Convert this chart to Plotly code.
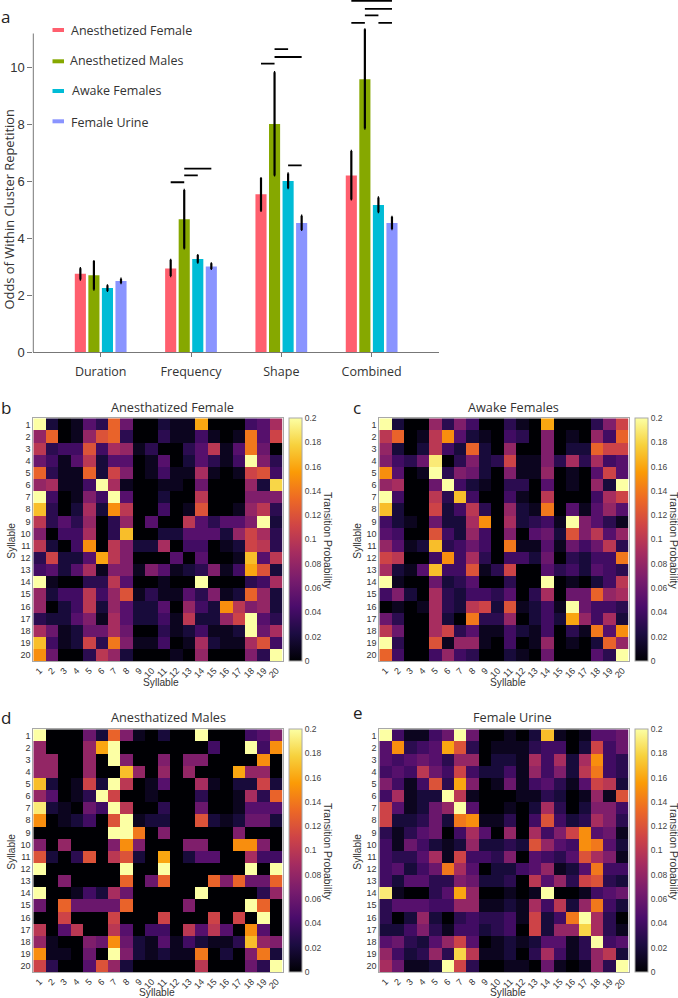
import numpy as np
import plotly.graph_objects as go

W, H = 678, 998

# ---------- panel a data ----------
categories = ["Duration", "Frequency", "Shape", "Combined"]
series_names = ["Anesthetized Female", "Anesthetized Males", "Awake Females", "Female Urine"]
series_colors = ["#FF5F6E", "#86A800", "#00BCD6", "#8A94FF"]
anes_female = [2.75, 2.94, 5.54, 6.20]
anes_female_hi = [2.95, 3.24, 6.11, 7.06]
anes_female_lo = [2.55, 2.67, 4.96, 5.36]
anes_males = [2.70, 4.66, 8.00, 9.57]
anes_males_hi = [3.20, 5.69, 9.82, 11.32]
anes_males_lo = [2.20, 3.64, 6.20, 7.84]
awake_females = [2.25, 3.27, 6.00, 5.16]
awake_females_hi = [2.35, 3.41, 6.27, 5.43]
awake_females_lo = [2.15, 3.14, 5.75, 4.91]
female_urine = [2.50, 3.01, 4.53, 4.53]
female_urine_hi = [2.58, 3.12, 4.79, 4.75]
female_urine_lo = [2.42, 2.92, 4.29, 4.32]

# significance bars: category index, first bar, last bar, height
sig_cat = [1, 1, 1, 2, 2, 2, 2, 3, 3, 3, 3, 3]
sig_from = [0, 1, 1, 0, 1, 1, 2, 0, 1, 1, 2, 0]
sig_to = [1, 2, 3, 1, 2, 3, 3, 1, 2, 3, 3, 3]
sig_y = [5.96, 6.20, 6.44, 10.12, 10.63, 10.35, 6.55, 11.55, 11.81, 12.04, 11.55, 12.32]

syllables = [str(i) for i in range(1, 21)]

# ---------- heatmaps, transition probability in hundredths ----------
anes_female_matrix = [
    [20, 2, 0, 1, 5, 3, 13, 6, 0, 0, 2, 1, 1, 16, 0, 0, 0, 4, 5, 9],
    [8, 13, 0, 1, 8, 12, 13, 3, 0, 0, 3, 1, 1, 4, 1, 0, 1, 14, 5, 11],
    [10, 3, 4, 4, 12, 4, 9, 8, 1, 3, 0, 0, 3, 5, 10, 1, 5, 14, 6, 0],
    [6, 4, 1, 5, 10, 2, 5, 5, 0, 1, 5, 0, 2, 5, 3, 1, 4, 20, 7, 3],
    [13, 3, 1, 1, 13, 2, 11, 7, 0, 1, 4, 1, 1, 9, 1, 0, 1, 11, 12, 4],
    [8, 9, 1, 1, 4, 20, 9, 1, 0, 0, 1, 1, 0, 6, 0, 0, 0, 8, 2, 18],
    [20, 4, 0, 1, 7, 4, 20, 5, 0, 0, 2, 0, 0, 10, 0, 0, 0, 7, 7, 7],
    [17, 3, 0, 2, 9, 2, 15, 10, 0, 0, 4, 0, 1, 12, 0, 0, 1, 8, 10, 3],
    [10, 3, 5, 3, 8, 0, 3, 8, 0, 5, 0, 0, 10, 5, 3, 5, 5, 7, 20, 2],
    [7, 0, 4, 4, 9, 0, 3, 17, 0, 0, 2, 2, 5, 5, 5, 2, 8, 11, 9, 3],
    [10, 2, 0, 4, 15, 0, 10, 7, 2, 2, 9, 0, 4, 4, 0, 1, 2, 11, 10, 3],
    [3, 11, 2, 2, 5, 16, 10, 7, 0, 0, 0, 5, 0, 5, 0, 0, 1, 17, 5, 10],
    [4, 5, 2, 5, 9, 1, 7, 7, 1, 7, 5, 1, 2, 3, 7, 1, 4, 16, 12, 2],
    [20, 1, 0, 0, 3, 3, 10, 5, 0, 0, 1, 0, 0, 20, 0, 0, 0, 3, 4, 9],
    [8, 2, 4, 4, 10, 4, 8, 12, 1, 3, 1, 1, 5, 3, 7, 1, 2, 13, 8, 2],
    [8, 0, 2, 4, 10, 2, 8, 5, 2, 2, 5, 0, 8, 4, 2, 15, 10, 7, 8, 2],
    [3, 2, 2, 5, 7, 1, 9, 5, 2, 2, 4, 1, 10, 2, 2, 8, 11, 20, 5, 3],
    [9, 6, 1, 2, 6, 6, 9, 6, 0, 0, 3, 1, 2, 4, 1, 1, 2, 20, 6, 9],
    [17, 4, 1, 2, 11, 3, 14, 7, 1, 1, 4, 0, 1, 9, 2, 1, 1, 9, 12, 4],
    [15, 6, 0, 0, 3, 10, 8, 2, 0, 0, 0, 1, 0, 8, 0, 0, 0, 7, 3, 20],
]
awake_females_matrix = [
    [20, 2, 0, 0, 8, 3, 7, 4, 0, 0, 3, 1, 0, 16, 0, 0, 0, 3, 7, 11],
    [10, 13, 0, 1, 10, 15, 5, 2, 1, 0, 4, 3, 0, 7, 0, 1, 0, 8, 4, 13],
    [8, 2, 0, 2, 10, 4, 2, 13, 2, 0, 8, 0, 0, 7, 0, 2, 2, 13, 11, 11],
    [7, 4, 3, 6, 19, 0, 3, 7, 2, 3, 11, 1, 1, 7, 3, 9, 3, 9, 4, 5],
    [15, 5, 0, 1, 20, 3, 7, 6, 2, 0, 7, 1, 1, 8, 0, 1, 0, 5, 11, 5],
    [8, 9, 0, 0, 6, 20, 4, 2, 1, 0, 3, 3, 0, 5, 0, 1, 0, 8, 2, 20],
    [20, 4, 0, 0, 10, 3, 17, 4, 0, 0, 4, 1, 0, 10, 0, 0, 0, 4, 9, 11],
    [17, 2, 0, 0, 11, 2, 4, 10, 3, 0, 8, 2, 1, 14, 0, 5, 1, 5, 8, 5],
    [4, 2, 1, 0, 6, 2, 2, 9, 15, 0, 9, 2, 3, 4, 1, 20, 7, 5, 3, 1],
    [5, 4, 0, 0, 12, 4, 2, 8, 4, 0, 7, 0, 5, 6, 2, 12, 7, 10, 5, 8],
    [8, 5, 1, 2, 17, 3, 4, 6, 4, 0, 14, 1, 1, 5, 1, 6, 4, 6, 10, 3],
    [11, 10, 0, 0, 4, 15, 4, 9, 3, 0, 4, 4, 2, 6, 0, 3, 2, 4, 4, 14],
    [9, 2, 1, 5, 17, 4, 4, 12, 1, 3, 11, 0, 0, 5, 3, 4, 2, 5, 4, 3],
    [20, 1, 0, 0, 6, 2, 3, 5, 0, 0, 3, 0, 0, 20, 0, 1, 0, 2, 4, 10],
    [4, 7, 2, 0, 9, 3, 2, 4, 4, 3, 5, 0, 3, 9, 0, 6, 6, 13, 8, 9],
    [0, 1, 0, 1, 9, 3, 2, 10, 11, 2, 12, 1, 2, 4, 1, 20, 6, 4, 4, 3],
    [6, 3, 0, 0, 9, 2, 0, 14, 3, 3, 8, 0, 2, 4, 2, 16, 8, 4, 9, 2],
    [10, 6, 0, 0, 9, 11, 3, 5, 1, 1, 4, 2, 1, 4, 0, 3, 1, 14, 5, 15],
    [20, 3, 0, 0, 12, 1, 8, 8, 1, 0, 4, 0, 1, 8, 0, 1, 0, 2, 13, 8],
    [13, 4, 0, 0, 4, 8, 4, 3, 0, 0, 2, 1, 0, 6, 0, 0, 0, 5, 3, 20],
]
anes_males_matrix = [
    [20, 0, 0, 0, 6, 2, 13, 7, 1, 0, 2, 0, 0, 20, 0, 0, 0, 4, 5, 7],
    [8, 0, 0, 0, 8, 16, 20, 0, 0, 0, 0, 0, 0, 0, 4, 0, 0, 20, 4, 15],
    [8, 8, 0, 0, 8, 0, 20, 7, 0, 0, 7, 0, 7, 7, 0, 0, 0, 0, 15, 0],
    [8, 8, 0, 0, 8, 0, 0, 17, 8, 0, 8, 0, 8, 0, 0, 0, 16, 8, 8, 0],
    [17, 2, 0, 1, 11, 2, 20, 10, 0, 1, 5, 0, 0, 9, 1, 0, 2, 2, 11, 2],
    [8, 5, 0, 1, 3, 20, 11, 0, 0, 1, 0, 0, 0, 3, 0, 0, 1, 9, 3, 13],
    [19, 2, 1, 0, 6, 4, 20, 10, 0, 0, 3, 0, 0, 6, 0, 0, 1, 5, 5, 5],
    [15, 0, 1, 2, 4, 0, 12, 20, 1, 2, 2, 0, 0, 12, 2, 1, 2, 6, 6, 2],
    [0, 0, 0, 0, 0, 0, 20, 20, 14, 0, 7, 0, 0, 0, 0, 0, 7, 0, 0, 0],
    [7, 0, 8, 0, 0, 0, 7, 15, 7, 0, 0, 0, 7, 7, 0, 0, 15, 15, 7, 0],
    [12, 2, 0, 3, 12, 0, 10, 12, 2, 0, 16, 0, 2, 5, 5, 0, 0, 9, 4, 4],
    [20, 0, 0, 0, 0, 0, 0, 20, 0, 0, 20, 0, 0, 0, 0, 0, 0, 20, 0, 20],
    [0, 0, 7, 0, 0, 0, 0, 13, 0, 6, 13, 0, 0, 0, 13, 7, 13, 6, 6, 13],
    [20, 0, 0, 1, 4, 2, 9, 6, 0, 0, 0, 0, 0, 20, 0, 0, 0, 0, 3, 8],
    [6, 0, 13, 6, 6, 6, 6, 13, 0, 0, 0, 0, 7, 0, 0, 0, 0, 20, 13, 0],
    [0, 0, 11, 0, 0, 0, 11, 0, 0, 0, 11, 0, 0, 0, 11, 0, 11, 0, 20, 0],
    [10, 0, 5, 10, 0, 0, 10, 5, 0, 4, 4, 0, 10, 5, 10, 5, 0, 15, 5, 0],
    [8, 1, 0, 0, 7, 6, 15, 6, 2, 1, 5, 1, 4, 2, 1, 1, 3, 17, 8, 7],
    [15, 1, 1, 0, 6, 0, 20, 7, 2, 1, 2, 1, 1, 14, 0, 2, 0, 7, 14, 2],
    [11, 3, 0, 0, 5, 12, 8, 2, 0, 0, 0, 0, 0, 10, 0, 0, 0, 6, 3, 20],
]
female_urine_matrix = [
    [20, 4, 1, 1, 4, 6, 20, 6, 0, 0, 1, 0, 2, 17, 1, 0, 1, 5, 5, 6],
    [5, 15, 3, 4, 5, 16, 12, 3, 0, 1, 1, 1, 3, 4, 4, 0, 2, 11, 4, 6],
    [5, 4, 5, 6, 5, 3, 8, 8, 0, 2, 2, 1, 9, 4, 9, 2, 9, 15, 4, 3],
    [4, 5, 4, 10, 6, 4, 11, 4, 2, 2, 4, 1, 8, 4, 7, 2, 10, 14, 4, 3],
    [7, 4, 1, 4, 12, 3, 16, 7, 0, 1, 6, 1, 4, 5, 3, 1, 5, 11, 10, 2],
    [4, 9, 1, 2, 2, 20, 10, 1, 0, 0, 0, 1, 1, 3, 2, 0, 1, 8, 1, 12],
    [11, 5, 1, 2, 6, 8, 20, 5, 0, 0, 1, 0, 2, 9, 3, 0, 2, 7, 7, 4],
    [11, 2, 2, 3, 6, 2, 14, 15, 1, 1, 3, 0, 4, 12, 4, 2, 3, 9, 7, 3],
    [3, 1, 3, 5, 6, 0, 4, 9, 5, 0, 8, 0, 9, 4, 7, 11, 15, 5, 6, 1],
    [4, 1, 6, 4, 2, 1, 2, 8, 2, 2, 3, 2, 12, 8, 5, 4, 15, 14, 5, 2],
    [4, 3, 3, 5, 9, 1, 11, 4, 4, 3, 7, 0, 5, 4, 3, 5, 12, 9, 7, 1],
    [4, 5, 2, 4, 6, 14, 9, 5, 0, 2, 2, 4, 5, 8, 1, 2, 5, 14, 4, 4],
    [4, 2, 5, 5, 3, 3, 7, 6, 2, 2, 3, 0, 10, 5, 8, 3, 11, 12, 3, 2],
    [19, 1, 0, 0, 3, 5, 16, 8, 0, 0, 1, 0, 1, 20, 0, 0, 1, 4, 5, 6],
    [3, 5, 5, 5, 4, 4, 8, 8, 1, 1, 2, 1, 9, 4, 10, 2, 8, 14, 4, 2],
    [3, 0, 2, 8, 2, 0, 3, 4, 3, 3, 4, 1, 11, 2, 4, 14, 20, 9, 3, 0],
    [2, 2, 4, 7, 3, 1, 4, 4, 2, 3, 4, 0, 11, 2, 8, 8, 18, 9, 3, 1],
    [5, 6, 3, 2, 5, 8, 11, 5, 0, 1, 2, 1, 2, 5, 5, 1, 3, 20, 4, 5],
    [8, 4, 2, 3, 8, 3, 18, 10, 1, 1, 2, 0, 3, 9, 4, 1, 3, 8, 10, 2],
    [9, 6, 1, 1, 2, 20, 11, 3, 0, 0, 1, 1, 0, 6, 1, 0, 1, 8, 3, 20],
]
for m in (anes_female_matrix, awake_females_matrix, anes_males_matrix, female_urine_matrix):
    assert len(m) == 20 and all(len(r) == 20 for r in m)

cbar_ticks = [0, 0.02, 0.04, 0.06, 0.08, 0.1, 0.12, 0.14, 0.16, 0.18, 0.2]
cbar_labels = ["0", "0.02", "0.04", "0.06", "0.08", "0.1", "0.12", "0.14", "0.16", "0.18", "0.2"]

SANS = "Liberation Sans"
HUM = "Open Sans"
TXT = "#333333"
FRAME = "#A8A8A8"


def px(x):
    return x / W


def py(y):
    return 1 - y / H


fig = go.Figure()

# ---------- panel a ----------
bar_offsets = [-0.225, -0.075, 0.075, 0.225]
bar_values = [anes_female, anes_males, awake_females, female_urine]
bar_hi = [anes_female_hi, anes_males_hi, awake_females_hi, female_urine_hi]
bar_lo = [anes_female_lo, anes_males_lo, awake_females_lo, female_urine_lo]
for name, col, v, hi, lo in zip(series_names, series_colors, bar_values, bar_hi, bar_lo):
    fig.add_trace(go.Bar(
        x=list(range(4)), y=v, name=name, marker=dict(color=col, line=dict(width=0)),
        error_y=dict(type="data", symmetric=False,
                     array=[h - a for h, a in zip(hi, v)],
                     arrayminus=[a - l for a, l in zip(v, lo)],
                     color="#000000", thickness=2.2, width=0.6),
        showlegend=False, xaxis="x", yaxis="y"))

sx, sy = [], []
for c, i, j, h in zip(sig_cat, sig_from, sig_to, sig_y):
    sx += [c + bar_offsets[i], c + bar_offsets[j], None]
    sy += [h, h, None]
fig.add_trace(go.Scatter(x=sx, y=sy, mode="lines", line=dict(color="#000000", width=1.8),
                         showlegend=False, xaxis="x", yaxis="y"))

x_l, x_r = 33.3, 439.3
y_0 = 352.3
unit = 28.53
y_top_val = y_0 / unit
fig.update_layout(
    barmode="group", bargap=0.4, bargroupgap=0.18,
    xaxis=dict(domain=[px(x_l), px(x_r)], range=[-0.746, 3.749], tickvals=[0, 1, 2, 3],
               ticktext=categories, showgrid=False, zeroline=False, showline=True,
               linecolor="#777777", linewidth=1, ticks="outside", ticklen=4, tickcolor="#777777",
               ticklabelstandoff=4,
               tickfont=dict(family=HUM, size=12.5, color=TXT), anchor="y"),
    yaxis=dict(domain=[py(y_0), 1], range=[0, y_top_val], tickvals=[0, 2, 4, 6, 8, 10],
               showgrid=False, zeroline=False, showline=False, ticks="outside", ticklen=5,
               tickcolor="#777777", tickfont=dict(family=SANS, size=13, color=TXT), anchor="x"),
)

shapes = [dict(type="line", xref="paper", yref="paper", x0=px(x_l), x1=px(x_l),
               y0=py(y_0), y1=py(33.5), line=dict(color="#777777", width=1))]
annotations = []


def text(x, y, s, size, family=HUM, anchor="left", angle=0, color=TXT):
    annotations.append(dict(x=px(x), y=py(y), xref="paper", yref="paper", text=s, showarrow=False,
                            xanchor=anchor, yanchor="middle", textangle=angle,
                            font=dict(family=family, size=size, color=color),
                            borderpad=0, borderwidth=0))


legend_text_x = [71, 70, 72, 71.3]
legend_text_y = [31, 60.7, 90.7, 122]
legend_sw_y = [30, 61.3, 91, 121.3]
for nm, col, tx, ty, sw in zip(series_names, series_colors, legend_text_x, legend_text_y, legend_sw_y):
    shapes.append(dict(type="rect", xref="paper", yref="paper", x0=px(52.5), x1=px(64),
                       y0=py(sw - 2), y1=py(sw + 2), fillcolor=col, line=dict(width=0)))
    text(tx, ty, nm, 12.5)

text(1, 16, "a", 17, color="#222222")
text(9, 209.5, "Odds of Within Cluster Repetition", 12.9, anchor="center", angle=-90)

# ---------- heatmaps ----------
panels = [
    ("b", "Anesthatized Female", anes_female_matrix, 33.3, 418.3, 172, 407, 1, 407, 12, 161),
    ("c", "Awake Females", awake_females_matrix, 379.3, 418.3, 513, 407, 353, 408, 358, 508),
    ("d", "Anesthatized Males", anes_males_matrix, 33.3, 729.3, 168, 717, 1, 717, 12, 157),
    ("e", "Female Urine", female_urine_matrix, 379.3, 729.3, 512, 717, 353, 712, 358, 508),
]
side, cb_w, h = 249.4, 13, 242.7
for k, (letter, title, m, x0, y0, tx, ty, lx, ly, ylab_x, xlab_x) in enumerate(panels):
    n = k + 2
    ax, ay = f"x{n}", f"y{n}"
    fig.add_trace(go.Heatmap(
        z=np.array(m) / 100, x=syllables, y=syllables, colorscale="Inferno", zmin=0, zmax=0.2,
        xaxis=ax, yaxis=ay, xgap=0, ygap=0,
        colorbar=dict(x=px(x0 + side + 6), xanchor="left", xref="paper",
                      y=py(y0 + h), yanchor="bottom", yref="paper",
                      len=h / H, lenmode="fraction", thickness=cb_w, thicknessmode="pixels",
                      outlinecolor=FRAME, outlinewidth=1, tickvals=cbar_ticks, ticktext=cbar_labels,
                      ticks="", ticklabelposition="outside",
                      tickfont=dict(family=SANS, size=8.5, color="#444444"), ypad=0, xpad=0)))
    axis_common = dict(showgrid=False, zeroline=False, showline=True, mirror=True, linecolor=FRAME,
                       linewidth=1, ticks="", type="category", tickmode="array",
                       tickvals=syllables, ticktext=syllables,
                       tickfont=dict(family=SANS, size=9, color=TXT))
    fig.update_layout({
        f"xaxis{n}": dict(domain=[px(x0), px(x0 + side)], anchor=ay, tickangle=-45, **axis_common),
        f"yaxis{n}": dict(domain=[py(y0 + h), py(y0)], anchor=ax, autorange="reversed", **axis_common),
    })
    text(tx, ty, title, 12.7, anchor="center")
    text(lx, ly, letter, 17, color="#222222")
    text(ylab_x, y0 + h / 2 + 1, "Syllable", 10.2, family=SANS, anchor="center", angle=-90)
    text(xlab_x, y0 + h + (21.5 if y0 < 700 else 20), "Syllable", 10.2, family=SANS, anchor="center")
    text(x0 + side + 45, y0 + h / 2 + 1, "Transition Probability", 10.4, family=SANS,
         anchor="center", angle=90)

fig.update_layout(width=W, height=H, autosize=False,
                  margin=dict(l=0, r=0, t=0, b=0, pad=0, autoexpand=False),
                  paper_bgcolor="white", plot_bgcolor="white", showlegend=False,
                  shapes=shapes, annotations=annotations)

fig.write_html("out.html", config={"displayModeBar": False},
               post_script="document.body.style.margin='0';")
